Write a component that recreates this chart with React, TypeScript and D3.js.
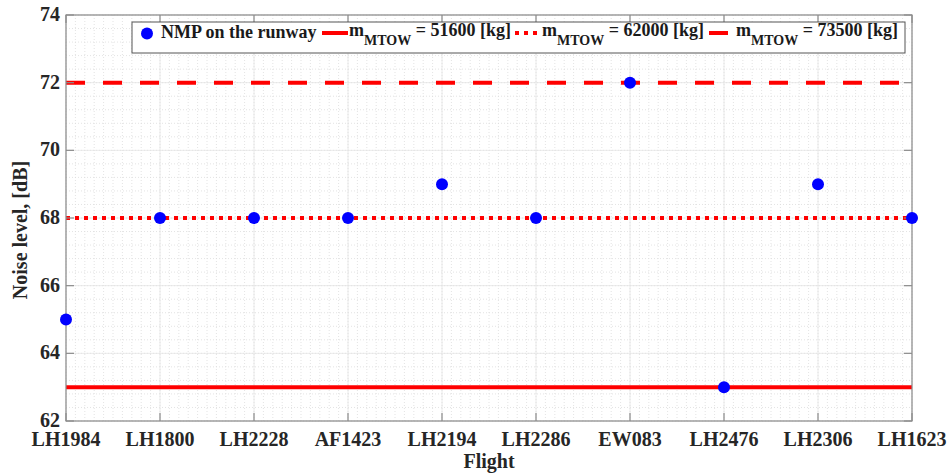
import React from "react";
import * as d3 from "d3";

const flights = ["LH1984", "LH1800", "LH2228", "AF1423", "LH2194", "LH2286", "EW083", "LH2476", "LH2306", "LH1623"];
const noise = [65, 68, 68, 68, 69, 68, 72, 63, 69, 68];
const yTicks = [62, 64, 66, 68, 70, 72, 74];
const limitValues = [63, 68, 72];
const limitMasses = ["51600", "62000", "73500"];
const limitDash = ["none", "4 5", "19 18"];

const W = 951, H = 473;
const M = { left: 66, right: 912, top: 15, bottom: 421 };
const FONT = "'Liberation Serif', 'Times New Roman', serif";

export default function App() {
  const x = d3.scaleLinear().domain([1, flights.length]).range([M.left, M.right]);
  const y = d3.scaleLinear().domain([62, 74]).range([M.bottom, M.top]);
  const xMinor = d3.range(1, 10.0001, 0.1);
  const yMinor = d3.range(62, 74.0001, 0.4);
  const xMajor = flights.map((_, i) => i + 1);

  const sampleX = [322, 515, 709];
  const sampleW = [26, 26, 21];

  return (
    <svg width={W} height={H} style={{ position: "absolute", left: 0, top: 0, background: "#fff" }}>
      <defs>
        <clipPath id="plot">
          <rect x={M.left} y={M.top} width={M.right - M.left} height={M.bottom - M.top} />
        </clipPath>
      </defs>
      <rect x={0} y={0} width={W} height={H} fill="#fff" />
      {/* minor grid */}
      <g stroke="#dcdcdc" strokeWidth={0.8} strokeDasharray="1 2">
        {xMinor.map((v, i) => (
          <line key={"xm" + i} x1={x(v)} x2={x(v)} y1={M.top} y2={M.bottom} />
        ))}
        {yMinor.map((v, i) => (
          <line key={"ym" + i} x1={M.left} x2={M.right} y1={y(v)} y2={y(v)} />
        ))}
      </g>
      {/* major grid */}
      <g stroke="#e4e4e4" strokeWidth={0.8}>
        {xMajor.map((v) => (
          <line key={"xM" + v} x1={x(v)} x2={x(v)} y1={M.top} y2={M.bottom} />
        ))}
        {yTicks.map((v) => (
          <line key={"yM" + v} x1={M.left} x2={M.right} y1={y(v)} y2={y(v)} />
        ))}
      </g>
      {/* limit lines */}
      <g clipPath="url(#plot)">
        {limitValues.map((v, i) => (
          <line key={"lim" + i} x1={M.left} x2={M.right} y1={y(v)} y2={y(v)}
            stroke="#ff0000" strokeWidth={4} strokeDasharray={limitDash[i]} />
        ))}
      </g>
      {/* axes box */}
      <rect x={M.left} y={M.top} width={M.right - M.left} height={M.bottom - M.top}
        fill="none" stroke="#8c8c8c" strokeWidth={1.2} />
      <g stroke="#8c8c8c" strokeWidth={1.2}>
        {xMajor.map((v) => (
          <g key={"xt" + v}>
            <line x1={x(v)} x2={x(v)} y1={M.bottom} y2={M.bottom - 8} />
            <line x1={x(v)} x2={x(v)} y1={M.top} y2={M.top + 8} />
          </g>
        ))}
        {yTicks.map((v) => (
          <g key={"yt" + v}>
            <line x1={M.left} x2={M.left + 8} y1={y(v)} y2={y(v)} />
            <line x1={M.right} x2={M.right - 8} y1={y(v)} y2={y(v)} />
          </g>
        ))}
      </g>
      {/* points */}
      <g>
        {noise.map((v, i) => (
          <circle key={"p" + i} cx={x(i + 1)} cy={y(v)} r={6} fill="#0000ff" />
        ))}
      </g>
      {/* tick labels */}
      <g fontFamily={FONT} fontWeight="bold" fontSize={20} fill="#262626">
        {flights.map((f, i) => (
          <text key={"xl" + i} x={x(i + 1)} y={446} textAnchor="middle">{f}</text>
        ))}
        {yTicks.map((v) => (
          <text key={"yl" + v} x={60} y={y(v)} dy="0.3em" textAnchor="end">{v}</text>
        ))}
        <text x={(M.left + M.right) / 2} y={468} textAnchor="middle">Flight</text>
        <text transform="translate(27,230) rotate(-90)" textAnchor="middle">Noise level, [dB]</text>
      </g>
      {/* legend */}
      <g fontFamily={FONT} fontWeight="bold" fill="#1a1a1a">
        <rect x={132} y={22} width={773} height={31} fill="#fff" stroke="#555" strokeWidth={1} />
        <circle cx={147} cy={33.5} r={6} fill="#0000ff" />
        <text x={161} y={38} fontSize={18}>NMP on the runway</text>
        {limitMasses.map((m, i) => (
          <g key={"lg" + i}>
            <line x1={sampleX[i]} x2={sampleX[i] + sampleW[i]} y1={33} y2={33}
              stroke="#ff0000" strokeWidth={4} strokeDasharray={limitDash[i]} />
            <text x={sampleX[i] + 27} y={36} fontSize={18}>
              m
              <tspan fontSize={14} dy={9}>MTOW</tspan>
              <tspan dy={-9} fontSize={18}>{` = ${m} [kg]`}</tspan>
            </text>
          </g>
        ))}
      </g>
    </svg>
  );
}
